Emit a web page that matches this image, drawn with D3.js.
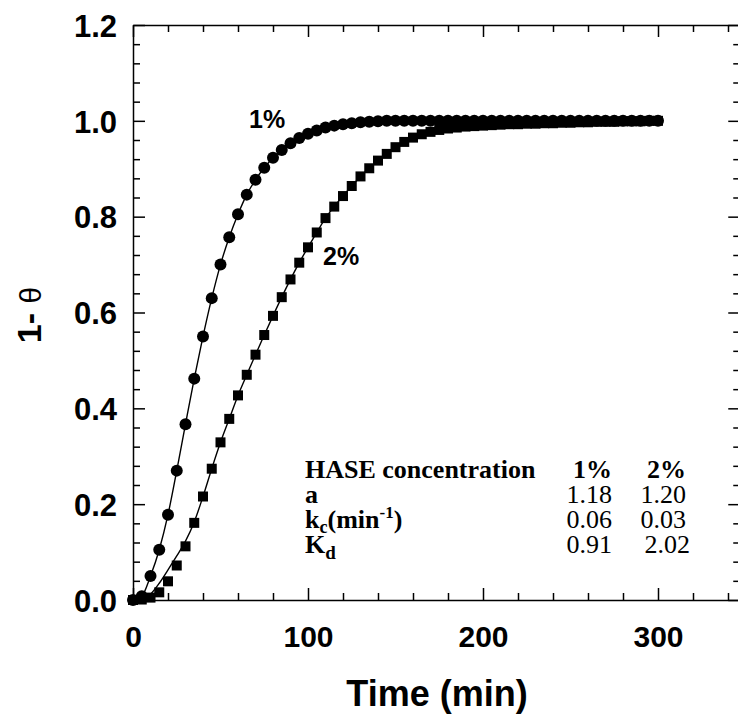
<!DOCTYPE html>
<html>
<head>
<meta charset="utf-8">
<script src="https://cdn.jsdelivr.net/npm/d3@7"></script>
<style>
  body { margin: 0; background: #fff; }
  svg { display: block; }
</style>
</head>
<body>
<svg id="chart" width="738" height="721"></svg>
<script>
// Sampling times (min)
const times = [0,5,10,15,20,25,30,35,40,45,50,55,60,65,70,75,80,85,90,95,
  100,105,110,115,120,125,130,135,140,145,150,155,160,165,170,175,180,185,190,195,
  200,205,210,215,220,225,230,235,240,245,250,255,260,265,270,275,280,285,290,295,300];

// 1 - theta, HASE 1 %
const conc1 = [0.000,0.008,0.050,0.105,0.178,0.270,0.367,0.462,0.550,0.630,
  0.700,0.757,0.805,0.846,0.877,0.902,0.923,0.939,0.953,0.964,
  0.973,0.980,0.986,0.990,0.993,0.995,0.997,0.998,0.999,1.000,
  1.000,1.000,1.000,1.000,1.000,1.000,1.000,1.000,1.000,1.000,
  1.000,1.000,1.000,1.000,1.000,1.000,1.000,1.000,1.000,1.000,
  1.000,1.000,1.000,1.000,1.000,1.000,1.000,1.000,1.000,1.000,1.000];

// 1 - theta, HASE 2 %
const conc2 = [0.000,0.001,0.005,0.016,0.039,0.072,0.112,0.161,0.216,0.274,
  0.329,0.378,0.427,0.470,0.512,0.553,0.593,0.632,0.669,0.704,
  0.736,0.767,0.797,0.821,0.843,0.864,0.884,0.901,0.917,0.931,
  0.945,0.956,0.965,0.972,0.977,0.981,0.984,0.986,0.988,0.989,
  0.990,0.991,0.992,0.993,0.993,0.994,0.994,0.995,0.995,0.996,
  0.996,0.997,0.997,0.998,0.998,0.998,0.999,0.999,0.999,1.000,1.000];

// Model curves (same sampling times)
const fit1 = conc1;
const fit2 = [0.000,0.000,0.012,0.035,0.063,0.092,0.123,0.163,0.216,0.274,
  0.329,0.378,0.427,0.470,0.512,0.553,0.593,0.632,0.669,0.704,
  0.736,0.767,0.797,0.821,0.843,0.864,0.884,0.901,0.917,0.931,
  0.945,0.956,0.965,0.972,0.977,0.981,0.984,0.986,0.988,0.989,
  0.990,0.991,0.992,0.993,0.993,0.994,0.994,0.995,0.995,0.996,
  0.996,0.997,0.997,0.998,0.998,0.998,0.999,0.999,0.999,1.000,1.000];

const xTickValues = [0, 100, 200, 300];
const yTickValues = [0.0, 0.2, 0.4, 0.6, 0.8, 1.0, 1.2];

// Fitted parameters table
const tableHeader = ["HASE concentration", "1%", "2%"];
const paramA  = ["1.18", "1.20"];
const paramKc = ["0.06", "0.03"];
const paramKd = ["0.91", "2.02"];

const svg = d3.select("#chart");
const plotLeft = 133, plotTop = 25, plotBottom = 600;

const x = d3.scaleLinear().domain([0, 347]).range([plotLeft, plotLeft + 347 * 1.75]);
const y = d3.scaleLinear().domain([0, 1.2]).range([plotBottom, plotTop]);

const sans = "'Liberation Sans', Arial, Helvetica, sans-serif";
const serif = "'Liberation Serif', 'Times New Roman', serif";

// minor tick positions
const xMinor = d3.range(0, 347, 20).filter(v => v % 100 !== 0);
const yMinor = d3.range(0, 1.2001, 0.04).map(v => +v.toFixed(2))
  .filter(v => Math.abs(v * 5 - Math.round(v * 5)) > 1e-6);

function styleAxis(g) {
  g.select(".domain").attr("stroke", "#000").attr("stroke-width", 1.5);
  g.selectAll(".tick line").attr("stroke", "#000").attr("stroke-width", 1.5);
}
function minorOnly(g) {
  g.select(".domain").remove();
  g.selectAll(".tick line").attr("stroke", "#000").attr("stroke-width", 1.5);
}

// bottom axis
const gx = svg.append("g").attr("transform", `translate(0,${plotBottom})`)
  .call(d3.axisBottom(x).tickValues(xTickValues).tickSizeInner(-12).tickSizeOuter(0).tickPadding(0).tickFormat(d3.format("d")));
styleAxis(gx);
gx.selectAll(".tick text").attr("y", 47).attr("dy", null)
  .attr("font-family", sans).attr("font-weight", "bold").attr("font-size", 30).attr("fill", "#000");
svg.append("g").attr("transform", `translate(0,${plotBottom})`)
  .call(d3.axisBottom(x).tickValues(xMinor).tickSizeInner(-7).tickSizeOuter(0).tickFormat(""))
  .call(minorOnly);

// top axis
const gt = svg.append("g").attr("transform", `translate(0,${plotTop})`)
  .call(d3.axisTop(x).tickValues(xTickValues).tickSizeInner(-12).tickSizeOuter(0).tickFormat(""));
styleAxis(gt);
svg.append("g").attr("transform", `translate(0,${plotTop})`)
  .call(d3.axisTop(x).tickValues(xMinor).tickSizeInner(-7).tickSizeOuter(0).tickFormat(""))
  .call(minorOnly);

// left axis
const gy = svg.append("g").attr("transform", `translate(${plotLeft},0)`)
  .call(d3.axisLeft(y).tickValues(yTickValues).tickSizeInner(-12).tickSizeOuter(0).tickPadding(16).tickFormat(d3.format(".1f")));
styleAxis(gy);
gy.selectAll(".tick text").attr("dy", "0.36em")
  .attr("font-family", sans).attr("font-weight", "bold").attr("font-size", 31).attr("fill", "#000");
svg.append("g").attr("transform", `translate(${plotLeft},0)`)
  .call(d3.axisLeft(y).tickValues(yMinor).tickSizeInner(-7).tickSizeOuter(0).tickFormat(""))
  .call(minorOnly);

// right axis
const xr = x.range()[1];
const gr = svg.append("g").attr("transform", `translate(${xr},0)`)
  .call(d3.axisRight(y).tickValues(yTickValues).tickSizeInner(-12).tickSizeOuter(0).tickFormat(""));
styleAxis(gr);
svg.append("g").attr("transform", `translate(${xr},0)`)
  .call(d3.axisRight(y).tickValues(yMinor).tickSizeInner(-7).tickSizeOuter(0).tickFormat(""))
  .call(minorOnly);

// axis titles
svg.append("text")
  .attr("x", 437).attr("y", 706).attr("text-anchor", "middle")
  .attr("font-family", sans).attr("font-weight", "bold").attr("font-size", 36)
  .text("Time (min)");

const yTitle = svg.append("text")
  .attr("transform", "translate(41,315) rotate(-90)")
  .attr("text-anchor", "middle")
  .attr("font-family", sans).attr("font-size", 34);
yTitle.append("tspan").attr("font-weight", "bold").text("1- ");
yTitle.append("tspan").attr("font-weight", "normal").attr("font-size", 30).text("θ");

// fitted curves
const line = d3.line().x(d => x(d[0])).y(d => y(d[1])).curve(d3.curveMonotoneX);
svg.append("path").datum(times.map((t, i) => [t, fit1[i]]))
  .attr("d", line).attr("fill", "none").attr("stroke", "#000").attr("stroke-width", 1.4);
svg.append("path").datum(times.map((t, i) => [t, fit2[i]]))
  .attr("d", line).attr("fill", "none").attr("stroke", "#000").attr("stroke-width", 1.4);

// 2 % markers (squares)
const sq = 10;
svg.append("g").selectAll("rect").data(times.map((t, i) => [t, conc2[i]])).join("rect")
  .attr("x", d => x(d[0]) - sq / 2).attr("y", d => y(d[1]) - sq / 2)
  .attr("width", sq).attr("height", sq).attr("fill", "#000");

// 1 % markers (circles)
svg.append("g").selectAll("circle").data(times.map((t, i) => [t, conc1[i]])).join("circle")
  .attr("cx", d => x(d[0])).attr("cy", d => y(d[1])).attr("r", 6).attr("fill", "#000");

// series labels
svg.append("text").attr("x", 249).attr("y", 128)
  .attr("font-family", sans).attr("font-weight", "bold").attr("font-size", 25).text("1%");
svg.append("text").attr("x", 323).attr("y", 265)
  .attr("font-family", sans).attr("font-weight", "bold").attr("font-size", 25).text("2%");

// parameter table
const tbl = svg.append("g").attr("font-family", serif).attr("font-size", 26).attr("fill", "#000");
const colLabel = 305, col1 = 612, col2 = 686;
const rowY = [478, 503, 528, 553];

tbl.append("text").attr("x", colLabel).attr("y", rowY[0]).attr("font-weight", "bold").text(tableHeader[0]);
tbl.append("text").attr("x", col1).attr("y", rowY[0]).attr("text-anchor", "end").attr("font-weight", "bold").text(tableHeader[1]);
tbl.append("text").attr("x", col2).attr("y", rowY[0]).attr("text-anchor", "end").attr("font-weight", "bold").text(tableHeader[2]);

tbl.append("text").attr("x", colLabel).attr("y", rowY[1]).attr("font-weight", "bold").text("a");

const kc = tbl.append("text").attr("x", colLabel).attr("y", rowY[2]).attr("font-weight", "bold");
kc.append("tspan").text("k");
kc.append("tspan").attr("font-size", 18).attr("dy", 5).text("c");
kc.append("tspan").attr("dy", -5).text("(min");
kc.append("tspan").attr("font-size", 17).attr("dy", -10).text("-1");
kc.append("tspan").attr("dy", 10).text(")");

const kd = tbl.append("text").attr("x", colLabel).attr("y", rowY[3]).attr("font-weight", "bold");
kd.append("tspan").text("K");
kd.append("tspan").attr("font-size", 19).attr("dy", 6).text("d");

[paramA, paramKc, paramKd].forEach((vals, r) => {
  tbl.append("text").attr("x", col1).attr("y", rowY[r + 1]).attr("text-anchor", "end").text(vals[0]);
  tbl.append("text").attr("x", col2 + (r === 2 ? 4 : 0)).attr("y", rowY[r + 1]).attr("text-anchor", "end").text(vals[1]);
});
</script>
</body>
</html>
